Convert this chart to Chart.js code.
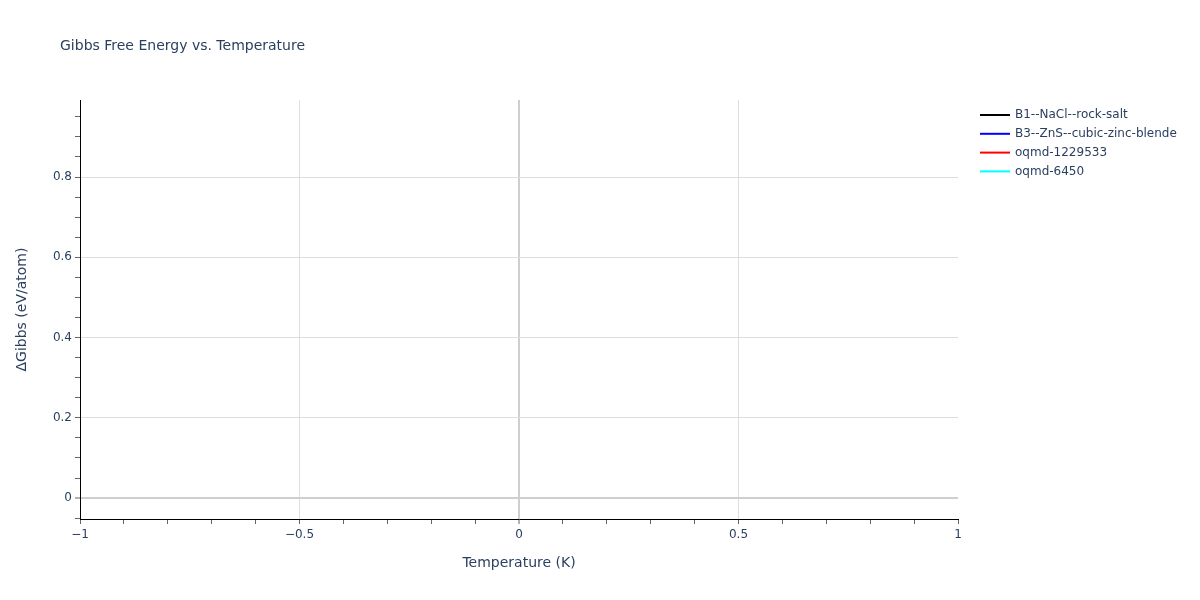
<!DOCTYPE html>
<html>
<head>
<meta charset="utf-8">
<script src="https://cdn.jsdelivr.net/npm/chart.js@4/dist/chart.umd.min.js"></script>
<style>
  html, body { margin: 0; padding: 0; background: #fff; }
  #wrap { position: relative; width: 1200px; height: 600px; }
</style>
</head>
<body>
<div id="wrap"><canvas id="gibbsChart" width="1200" height="600"></canvas></div>
<script>
// --- data ---
const temperatures = [0];
const seriesNames = ['B1--NaCl--rock-salt', 'B3--ZnS--cubic-zinc-blende', 'oqmd-1229533', 'oqmd-6450'];
const seriesColors = ['black', 'blue', 'red', 'cyan'];
const seriesValues = [[0], [0], [0], [0]];
const xTickLabels = [-1, -0.5, 0, 0.5, 1];
const yTickLabels = [0, 0.2, 0.4, 0.6, 0.8];
const xRange = [-1, 1];
const yRange = [-0.052, 0.992];

const textColor = '#2a3f5f';
const fontFamily = '"DejaVu Sans", Verdana, sans-serif';

const near = (a, b) => Math.abs(a - b) < 1e-6;
const isLabelled = (list, v) => list.some(t => near(t, v));
const fmt = v => (v < 0 ? '\u2212' : '') + String(Math.abs(Math.round(v * 100) / 100));

function stepTicks(min, max, step) {
    const out = [];
    for (let k = Math.ceil(min / step - 1e-9); k * step <= max + 1e-9; k++) {
        out.push({ value: Math.round(k * step * 1000) / 1000 });
    }
    return out;
}

// title + legend drawn in fixed spots, like the original layout
const overlay = {
    id: 'overlay',
    afterDraw(chart) {
        const c = chart.ctx;
        c.save();
        c.fillStyle = textColor;
        c.font = '14px ' + fontFamily;
        c.textBaseline = 'alphabetic';
        c.textAlign = 'left';
        c.fillText('Gibbs Free Energy vs. Temperature', 60, 50);

        c.font = '12px ' + fontFamily;
        c.textBaseline = 'middle';
        chart.data.datasets.forEach((ds, i) => {
            const y = 115 + i * 18.8;
            c.strokeStyle = ds.borderColor;
            c.lineWidth = 2;
            c.beginPath();
            c.moveTo(980, y);
            c.lineTo(1010, y);
            c.stroke();
            c.fillStyle = textColor;
            c.fillText(ds.label, 1015, y);
        });
        c.restore();
    }
};

const ctx = document.getElementById('gibbsChart');
new Chart(ctx, {
    type: 'line',
    data: {
        datasets: seriesNames.map((name, i) => ({
            label: name,
            data: temperatures.map((t, j) => ({ x: t, y: seriesValues[i][j] })),
            borderColor: seriesColors[i],
            backgroundColor: seriesColors[i],
            borderWidth: 2,
            pointRadius: 0,
            fill: false
        }))
    },
    options: {
        responsive: false,
        animation: false,
        devicePixelRatio: 1,
        layout: { padding: { left: 0, top: 100, right: 242, bottom: 0 } },
        plugins: { legend: { display: false }, tooltip: { enabled: false }, title: { display: false } },
        scales: {
            x: {
                type: 'linear',
                min: xRange[0],
                max: xRange[1],
                afterBuildTicks: axis => { axis.ticks = stepTicks(xRange[0], xRange[1], 0.1); },
                afterFit: axis => { axis.height = 81; },
                border: { color: '#000', width: 1 },
                grid: {
                    color: c => {
                        const v = c.tick ? c.tick.value : NaN;
                        if (near(v, 0)) return '#cfcfcf';
                        if (near(Math.abs(v), 1)) return 'rgba(0,0,0,0)';
                        return isLabelled(xTickLabels, v) ? '#dedede' : 'rgba(0,0,0,0)';
                    },
                    lineWidth: c => (c.tick && near(c.tick.value, 0) ? 2 : 1),
                    tickColor: '#666',
                    tickWidth: 1,
                    tickLength: 5
                },
                ticks: {
                    autoSkip: false,
                    maxRotation: 0,
                    padding: 4,
                    color: textColor,
                    font: { family: fontFamily, size: 12 },
                    callback: v => (isLabelled(xTickLabels, v) ? fmt(v) : '')
                },
                title: {
                    display: true,
                    text: 'Temperature (K)',
                    color: textColor,
                    font: { family: fontFamily, size: 14 },
                    padding: { top: 0, bottom: 28 }
                }
            },
            y: {
                type: 'linear',
                min: yRange[0],
                max: yRange[1],
                afterBuildTicks: axis => { axis.ticks = stepTicks(yRange[0], yRange[1], 0.05); },
                afterFit: axis => { axis.width = 80; },
                border: { color: '#000', width: 1 },
                grid: {
                    color: c => {
                        const v = c.tick ? c.tick.value : NaN;
                        if (near(v, 0)) return '#cfcfcf';
                        return isLabelled(yTickLabels, v) ? '#dedede' : 'rgba(0,0,0,0)';
                    },
                    lineWidth: c => (c.tick && near(c.tick.value, 0) ? 2 : 1),
                    tickColor: '#666',
                    tickWidth: 1,
                    tickLength: 5
                },
                ticks: {
                    autoSkip: false,
                    padding: 3,
                    color: textColor,
                    font: { family: fontFamily, size: 12 },
                    callback: v => (isLabelled(yTickLabels, v) ? fmt(v) : '')
                },
                title: {
                    display: true,
                    text: '\u0394Gibbs (eV/atom)',
                    color: textColor,
                    font: { family: fontFamily, size: 14 },
                    padding: { top: 14, bottom: 0 }
                }
            }
        }
    },
    plugins: [overlay]
});
</script>
</body>
</html>
